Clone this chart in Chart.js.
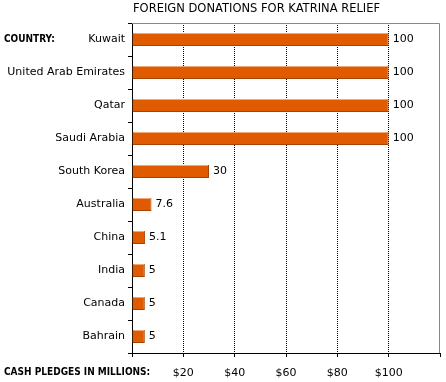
<!DOCTYPE html>
<html>
<head>
<meta charset="utf-8">
<script src="https://cdn.jsdelivr.net/npm/chart.js@4"></script>
<style>
  html, body { margin: 0; padding: 0; background: #fff; }
  #wrap { width: 446px; height: 382px; position: relative; }
</style>
</head>
<body>
<div id="wrap"><canvas id="chart"></canvas></div>
<script>
// Data
const countries = ["Kuwait", "United Arab Emirates", "Qatar", "Saudi Arabia", "South Korea",
  "Australia", "China", "India", "Canada", "Bahrain"];
const pledges = [100, 100, 100, 100, 30, 7.6, 5.1, 5, 5, 5];
const pledgeLabels = ["100", "100", "100", "100", "30", "7.6", "5.1", "5", "5", "5"];
const xTickValues = [20, 40, 60, 80, 100];

const FONT = "DejaVu Sans, Verdana, sans-serif";

// Title, side captions, frame, bar highlight and value labels
const extras = {
  id: "extras",
  afterDatasetsDraw(chart) {
    const ctx = chart.ctx;
    const a = chart.chartArea;
    const meta = chart.getDatasetMeta(0);
    ctx.save();
    // gray top/right frame
    ctx.strokeStyle = "#888";
    ctx.lineWidth = 1;
    ctx.beginPath();
    ctx.moveTo(a.left, a.top + 0.5);
    ctx.lineTo(a.right - 0.5, a.top + 0.5);
    ctx.lineTo(a.right - 0.5, a.bottom);
    ctx.stroke();

    // light top edge on each bar
    ctx.fillStyle = "#f0a878";
    meta.data.forEach(bar => {
      const top = Math.round(bar.y - bar.height / 2);
      ctx.fillRect(bar.base + 1, top, bar.x - bar.base - 2, 1);
    });

    ctx.fillStyle = "#000";
    ctx.font = "11px " + FONT;
    ctx.textBaseline = "middle";
    ctx.textAlign = "left";
    meta.data.forEach((bar, i) => {
      ctx.fillText(pledgeLabels[i], bar.x + 4, bar.y);
    });

    ctx.font = "11.5px " + FONT;
    ctx.fillText("FOREIGN DONATIONS FOR KATRINA RELIEF", a.left + 1, 9);

    ctx.font = "bold 10px 'DejaVu Sans Condensed', " + FONT;
    ctx.fillText("COUNTRY:", 4, meta.data[0].y);
    ctx.fillText("CASH PLEDGES IN MILLIONS:", 4, 372);
    ctx.restore();
  }
};

new Chart(document.getElementById("chart"), {
  type: "bar",
  data: {
    labels: countries,
    datasets: [{
      data: pledges,
      backgroundColor: "#e05a00",
      borderColor: "#a84200",
      borderWidth: { top: 0, left: 0, right: 1, bottom: 1 },
      borderSkipped: false,
      barPercentage: 0.4,
      categoryPercentage: 1
    }]
  },
  options: {
    indexAxis: "y",
    responsive: true,
    maintainAspectRatio: false,
    animation: false,
    layout: { padding: { left: 0, right: 6, top: 23, bottom: 0 } },
    plugins: {
      legend: { display: false },
      tooltip: { enabled: false }
    },
    scales: {
      x: {
        min: 0,
        max: 120,
        afterFit: s => {
          s.height = 29;
          s.paddingLeft = 0;
          s.paddingRight = 0;
        },
        afterBuildTicks: s => {
          s.ticks = [0].concat(xTickValues, [120]).map(v => ({ value: v }));
        },
        border: { color: "#000", width: 1, dash: [1, 1] },
        grid: {
          drawTicks: true,
          tickLength: 4,
          tickColor: "#000",
          color: c => (c.tick && (c.tick.value === 0 || c.tick.value === 120)) ? "rgba(0,0,0,0)" : "#000"
        },
        ticks: {
          color: "#000",
          padding: 10,
          font: { family: FONT, size: 11 },
          callback: v => xTickValues.includes(v) ? "$" + v : ""
        }
      },
      y: {
        afterFit: s => { s.width = 132; },
        border: { color: "#000", width: 1 },
        grid: {
          drawOnChartArea: false,
          drawTicks: true,
          tickLength: 4,
          color: "#000",
          offset: true
        },
        ticks: {
          color: "#000",
          padding: 3,
          font: { family: FONT, size: 11 }
        }
      }
    }
  },
  plugins: [extras]
});
</script>
</body>
</html>
